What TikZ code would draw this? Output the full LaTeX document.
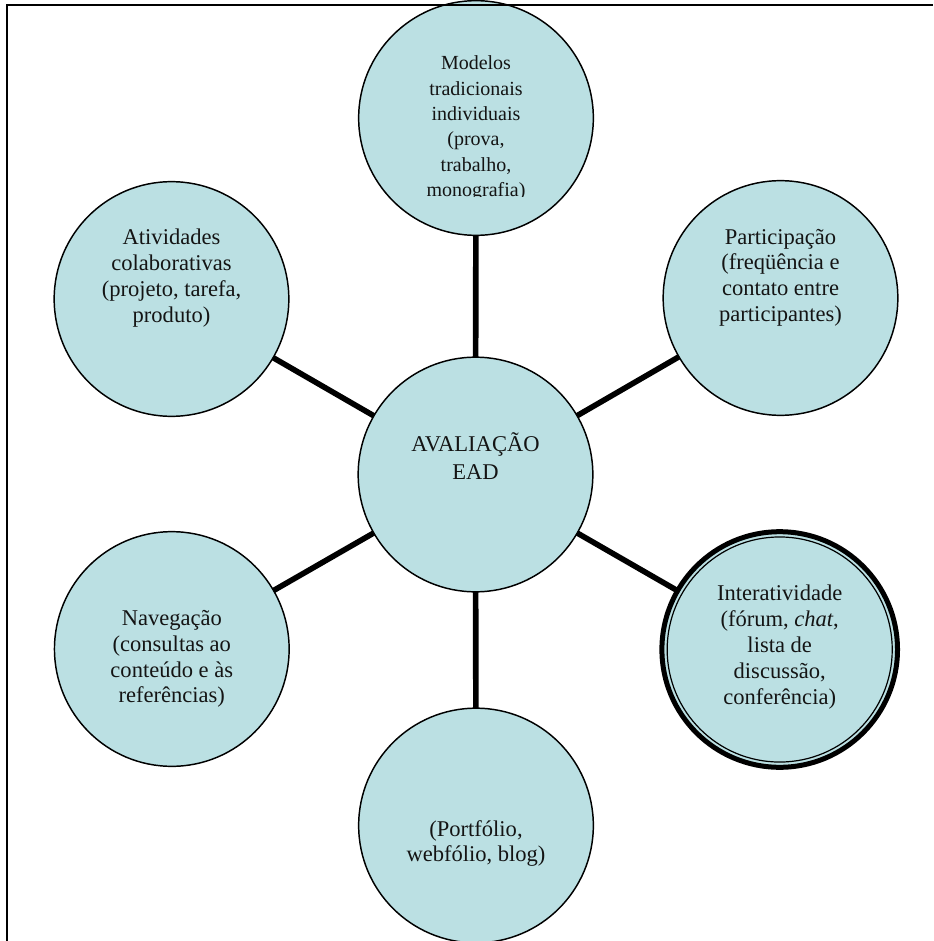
\documentclass[tikz,border=0pt]{standalone}
\usepackage{fontspec}
\setmainfont{Liberation Serif}
\usetikzlibrary{backgrounds}
\definecolor{bubblefill}{RGB}{187,224,227}
\tikzset{
  bubble/.style={circle, draw=black, line width=1.1pt, fill=bubblefill,
                 minimum size=176pt, inner sep=0pt},
  txt/.style={align=center, inner sep=0pt, text=black!92,
              font=\fontsize{16.9}{19.3}\selectfont},
  spoke/.style={line width=4.2pt, black},
  frameline/.style={line width=1.8pt, black}
}
\begin{document}
\begin{tikzpicture}[x=0.75pt, y=-0.75pt]
  \useasboundingbox (0,0) rectangle (933,941);

  % circles of the evaluation map
  \node[bubble] (centre) at (475.5,474.5) {};
  \node[bubble] (top)    at (476,118)     {};
  \node[bubble] (partic) at (780.5,298)   {};
  \node[bubble, line width=3.75pt, minimum size=176.7pt] (inter) at (779.7,649.5) {};
  \draw[line width=0.9pt] (inter.center) circle[radius=84.4pt];
  \node[bubble] (ativ)   at (171.5,299)   {};
  \node[bubble] (nav)    at (171.8,649)   {};
  \node[bubble] (port)   at (476,825.5)   {};

  % spokes from the centre, behind the circles
  \begin{scope}[on background layer]
    \foreach \n in {top,partic,inter,port,nav,ativ}
      \draw[spoke] (centre.center) -- (\n.center);
  \end{scope}

  % labels
  \node[txt, font=\fontsize{16.9}{21}\selectfont] (tcentre) at (475.5,456.5) {AVALIAÇÃO\\EAD};
  \begin{scope}
    \clip (0,0) rectangle (933,197);
    \node[txt, font=\fontsize{15}{19}\selectfont] (ttop) at (476,128.5)
      {Modelos\\tradicionais\\individuais\\(prova,\\trabalho,\\monografia)};
  \end{scope}
  \node[txt] (tpartic) at (780.5,277.5) {Participação\\(freqüência e\\contato entre\\participantes)};
  \node[txt, font=\fontsize{16.9}{19.4}\selectfont] (tinter) at (779.7,647)
    {Interatividade\\(fórum, \textit{chat},\\lista de\\discussão,\\conferência)};
  \node[txt] (tativ) at (171.5,278) {Atividades\\colaborativas\\(projeto, tarefa,\\produto)};
  \node[txt] (tnav) at (171.8,659) {Navegação\\(consultas ao\\conteúdo e às\\referências)};
  \node[txt] (tport) at (476,843.5) {(Portfólio,\\webfólio, blog)};

  % page frame (left and top edges)
  \coordinate (fbl) at (7,941);
  \coordinate (ftl) at (7,5);
  \coordinate (ftr) at (933,5);
  \draw[frameline] (fbl) -- (ftl) -- (ftr);
\end{tikzpicture}
\end{document}
